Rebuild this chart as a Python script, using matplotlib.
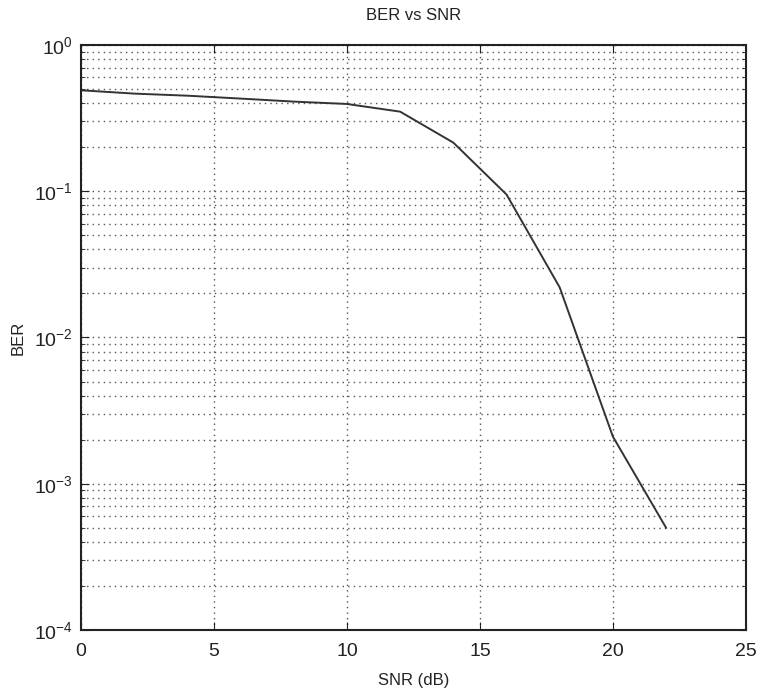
import matplotlib
matplotlib.use("Agg")
import matplotlib.pyplot as plt
import matplotlib.ticker as mticker

# BER curve (points every 2 dB)
snr_db = [0, 2, 4, 6, 8, 10, 12, 14, 16, 18, 20, 22]
ber = [0.49, 0.465, 0.45, 0.43, 0.41, 0.395, 0.35, 0.215, 0.095, 0.022, 0.0021, 0.0005]

x_ticks = [0, 5, 10, 15, 20, 25]

plt.rcParams['font.family'] = ['Liberation Sans', 'DejaVu Sans']

fig = plt.figure(figsize=(7.59, 6.95), dpi=100)
ax = fig.add_axes([0.1067, 0.0935, 0.876, 0.8418])

ax.semilogy(snr_db, ber, color="#333333", linewidth=1.4)

ax.set_xlim(0, 25)
ax.set_ylim(1e-4, 1e0)
ax.set_xticks(x_ticks)
ax.yaxis.set_major_locator(mticker.LogLocator(base=10, numticks=10))
ax.yaxis.set_minor_locator(mticker.LogLocator(base=10, subs=range(2, 10), numticks=10))
ax.yaxis.set_minor_formatter(mticker.NullFormatter())

# MATLAB style grid: dotted lines on major x and on all y ticks
ax.grid(True, which="major", axis="both", linestyle=(0, (1, 3)), color="#555555", linewidth=1.0)
ax.grid(True, which="minor", axis="y", linestyle=(0, (1, 3)), color="#555555", linewidth=1.0)

ax.tick_params(which="both", direction="in", top=True, right=True, labelsize=14, colors="#222222")
ax.tick_params(which="major", length=6)
ax.tick_params(which="minor", length=3)
ax.tick_params(axis="x", pad=9)
ax.tick_params(axis="y", pad=6)
for spine in ax.spines.values():
    spine.set_linewidth(1.5)
    spine.set_color("#222222")

ax.set_title("BER vs SNR", fontsize=12, pad=18, color="#222222")
ax.set_xlabel("SNR (dB)", fontsize=12, color="#222222")
ax.set_ylabel("BER", fontsize=12, color="#222222")
ax.xaxis.set_label_coords(0.5, -0.074)
ax.yaxis.set_label_coords(-0.083, 0.5)

plt.savefig("out.png", dpi=100)
